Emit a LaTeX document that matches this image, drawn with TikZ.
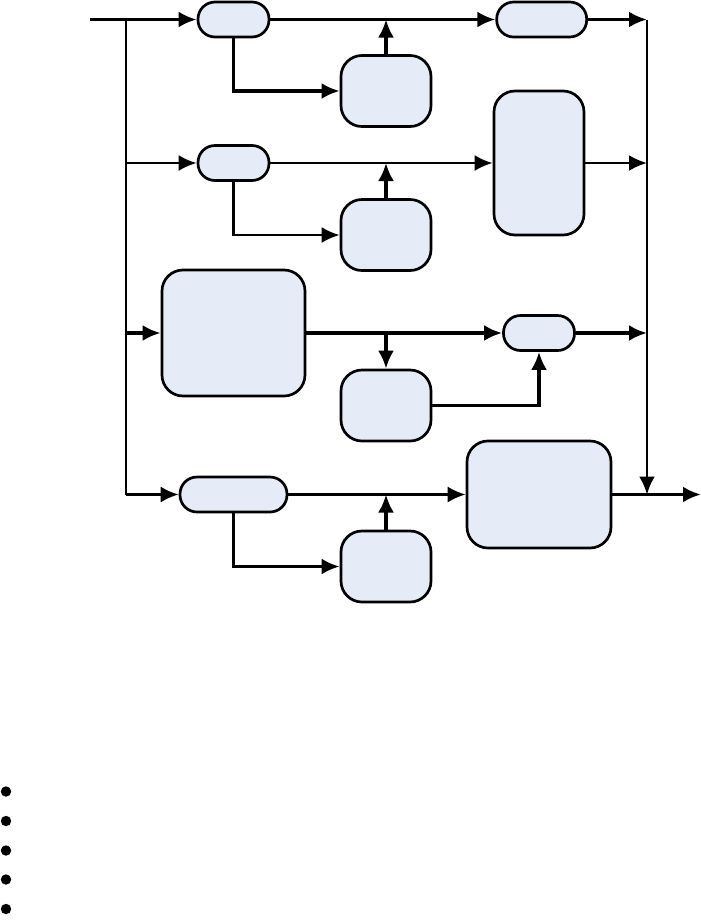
\documentclass[tikz,border=0pt]{standalone}
\usepackage{tikz}
\usetikzlibrary{arrows.meta,positioning,calc}
\definecolor{boxblue}{RGB}{230,236,247}

\begin{document}
\begin{tikzpicture}[x=1pt, y=-1pt,
    pill/.style={rectangle, draw, fill=boxblue, rounded corners=17pt, minimum width=71pt, minimum height=35pt, inner sep=0pt, line width=2.7pt},
    blk/.style={rectangle, draw, fill=boxblue, rounded corners=21pt, minimum width=90pt, minimum height=71pt, inner sep=0pt, line width=2.7pt},
    line/.style={draw, -{Latex[length=18pt, width=16pt]}, line width=2.5pt},
    thk/.style={line width=3.4pt},
    bus/.style={draw, line width=2.5pt}]
    \useasboundingbox (0,0) rectangle (701,922);

    % Row 1
    \node [pill] (a1) at (233.5,19.5) {};
    \node [pill, minimum width=90pt, right=225pt of a1] (b1) {};
    \node [blk] (c1) at (386,91) {};

    % Row 2
    \node [pill] (a2) at (233.5,163) {};
    \node [blk, minimum height=144pt] (d2) at (539,163) {};
    \node [blk] (c2) at (386,235) {};

    % Row 3
    \node [blk, minimum width=143pt, minimum height=126pt] (e3) at (233.5,333) {};
    \node [pill] (f3) at (539,333) {};
    \node [blk] (c3) at (386,405.5) {};

    % Row 4
    \node [pill, minimum width=107pt] (g4) at (233.5,494.5) {};
    \node [blk, minimum width=144pt, minimum height=107pt] (h4) at (539,494.5) {};
    \node [blk] (c4) at (386,566.5) {};

    % Buses
    \coordinate (in) at (90,19.5);
    \coordinate (bt) at (126,19.5);
    \coordinate (bb) at (126,494.5);
    \coordinate (rt) at (647,19.5);
    \coordinate (out) at (701,494.5);
    \draw [bus] (bt) -- (bb);

    % Connectors, row 1
    \draw [line, thk] (in) -- (a1);
    \draw [line, thk] (a1) -- (b1);
    \draw [line, thk] (b1) -- (rt);
    \draw [line, thk] (a1.south) |- (c1);
    \draw [line, thk] (c1) -- (c1 |- a1);

    % Connectors, row 2
    \draw [line] (bt |- a2) -- (a2);
    \draw [line] (a2) -- (d2);
    \draw [line] (a2.south) |- (c2);
    \draw [line, thk] (c2) -- (c2 |- a2);
    \draw [line] (d2) -- (rt |- d2);

    % Connectors, row 3
    \draw [line, thk] (bt |- e3) -- (e3);
    \draw [line, thk] (e3) -- (f3);
    \draw [line, thk] (c3 |- e3) -- (c3);
    \draw [line, thk] (c3) -| (f3);
    \draw [line, thk] (f3) -- (rt |- f3);

    % Connectors, row 4
    \draw [line] (bb) -- (g4);
    \draw [line] (g4) -- (h4);
    \draw [line, thk] (g4.south) |- (c4);
    \draw [line, thk] (c4) -- (c4 |- g4);
    \draw [line, thk] (h4) -- (out);
    \draw [line] (rt) -- (rt |- h4);

    % Bullets
    \foreach \y in {791.5,821,850.5,879.5,909}
        \fill (6,\y) circle (5.2pt);
\end{tikzpicture}
\end{document}
